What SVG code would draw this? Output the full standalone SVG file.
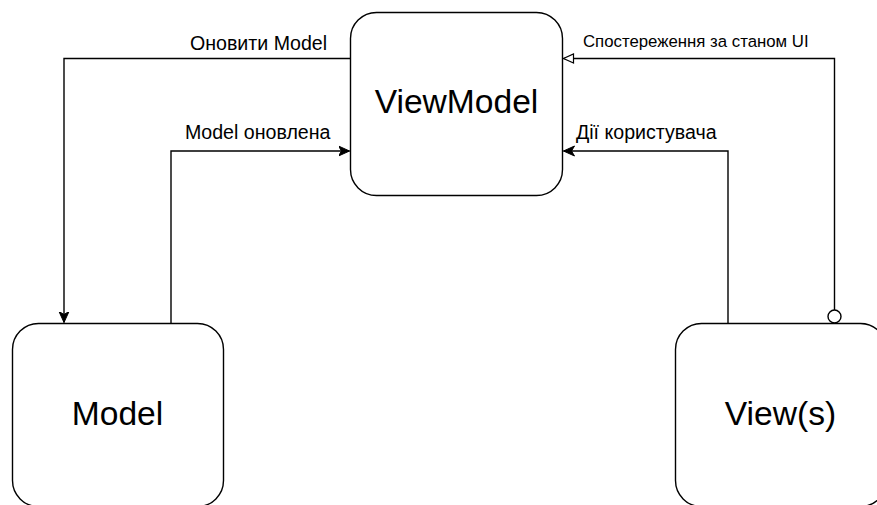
<svg xmlns="http://www.w3.org/2000/svg" width="877" height="505" viewBox="0 0 877 505">
  <style>
    .node rect { fill: #ffffff; stroke: #000000; stroke-width: 1.4; }
    .node text { font-family: "Liberation Sans", Arial, sans-serif; font-size: 33.6px; fill: #000000; text-anchor: middle; }
    .edge { fill: none; stroke: #000000; stroke-width: 1.4; }
    .label { font-family: "Liberation Sans", Arial, sans-serif; fill: #000000; }
    .big { font-size: 19.6px; }
    .small { font-size: 16.8px; }
  </style>
  <defs>
    <marker id="classic" markerUnits="userSpaceOnUse" markerWidth="14" markerHeight="12" refX="11" refY="6" orient="auto" viewBox="0 0 14 12">
      <path d="M0,1 L11,6 L0,11 L3,6 Z" fill="#000000" stroke="#000000" stroke-width="1"/>
    </marker>
    <marker id="block-open" markerUnits="userSpaceOnUse" markerWidth="14" markerHeight="12" refX="11" refY="6" orient="auto" viewBox="0 0 14 12">
      <path d="M1,1.5 L11,6 L1,10.5 Z" fill="#ffffff" stroke="#000000" stroke-width="1.2"/>
    </marker>
  </defs>

  <rect width="877" height="505" fill="#ffffff"/>

  <!-- connectors -->
  <g id="connectors">
    <!-- ViewModel -> Model -->
    <path class="edge" d="M350.5,58.5 H64 V322.5" marker-end="url(#classic)"/>
    <text class="label big" x="190" y="50">Оновити Model</text>
    <!-- Model -> ViewModel -->
    <path class="edge" d="M171,323.5 V151 H349.5" marker-end="url(#classic)"/>
    <text class="label big" x="185" y="139">Model оновлена</text>
    <!-- View(s) -> ViewModel -->
    <path class="edge" d="M728,323.5 V151 H563.5" marker-end="url(#classic)"/>
    <text class="label big" x="576" y="139">Дії користувача</text>
    <!-- ViewModel observed by View(s) -->
    <circle cx="834.5" cy="316.5" r="6.5" fill="#ffffff" stroke="#000000" stroke-width="1.4"/>
    <path class="edge" d="M834.5,310 V58.5 H563.5" marker-end="url(#block-open)"/>
    <text class="label small" x="583" y="47">Спостереження за станом UI</text>
  </g>

  <!-- nodes -->
  <g id="viewmodel" class="node">
    <rect x="350.5" y="12.5" width="212" height="183" rx="26" ry="26"/>
    <text x="456.5" y="113">ViewModel</text>
  </g>
  <g id="model" class="node">
    <rect x="12.5" y="323.5" width="211" height="183" rx="26" ry="26"/>
    <text x="117.5" y="425">Model</text>
  </g>
  <g id="views" class="node">
    <rect x="675.5" y="323.5" width="211" height="183" rx="26" ry="26"/>
    <text x="780.5" y="425">View(s)</text>
  </g>
</svg>
